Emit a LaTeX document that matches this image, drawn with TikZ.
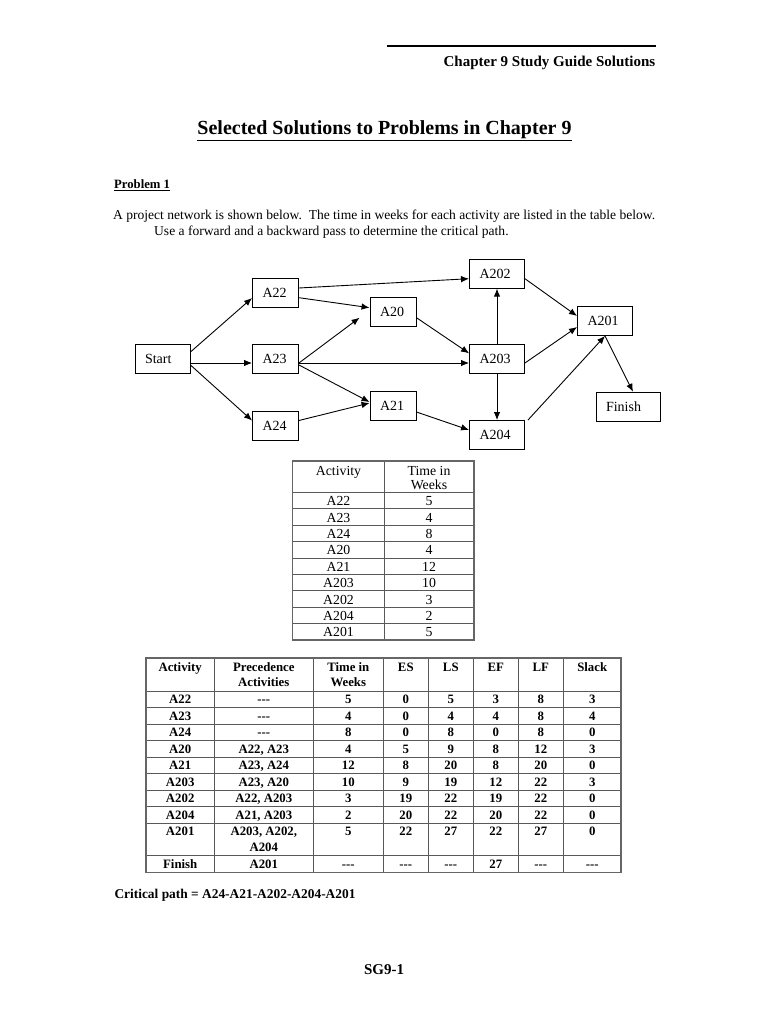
\documentclass[tikz,border=0pt]{standalone}
\usepackage{fontspec}
\setmainfont{Liberation Serif}
\usetikzlibrary{arrows.meta}
\newcommand\netfont{\fontsize{14}{16}\selectfont}
\newcommand\bodyfont{\fontsize{13.55}{16}\selectfont}
\newcommand\tabfont{\fontsize{13.8}{15}\selectfont}
\newcommand\btabfont{\fontsize{12.8}{15}\selectfont\bfseries}
\newcommand\tripdash{{-}{-}{-}}
\begin{document}
\begin{tikzpicture}[x=1pt,y=-1pt,
  box/.style={draw, line width=0.9pt, minimum height=29pt, inner xsep=10pt, inner ysep=0pt, align=left, font=\netfont},
  arr/.style={-{Latex[length=8pt,width=6.5pt]}, line width=0.9pt},
  txt/.style={inner sep=0pt, anchor=base west},
  cell/.style={inner sep=0pt, anchor=base},
  grid/.style={line width=0.8pt, draw=black!65},
  frame/.style={line width=1.3pt, draw=black!60}]
\useasboundingbox (0,0) rectangle (768,1024);
\fill[white] (0,0) rectangle (768,1024);

% header
\coordinate (hl) at (387,46);
\coordinate (hr) at (656,46);
\draw[line width=2.6pt] (hl) -- (hr);
\node[inner sep=0pt, anchor=base east, font=\fontsize{15}{17}\selectfont\bfseries] (head) at (655.5,66.5) {Chapter 9 Study Guide Solutions};

% title
\node[inner sep=0pt, anchor=base, font=\fontsize{20}{24}\selectfont\bfseries] (title) at (384.5,135) {\underline{Selected Solutions to Problems in Chapter 9}};
\node[txt, font=\fontsize{12.7}{14}\selectfont\bfseries] (prob) at (114,188.3) {\underline{Problem 1}};
\node[txt, font=\bodyfont] (body1) at (113,219.5) {A project network is shown below.\ \ The time in weeks for each activity are listed in the table below.};
\node[txt, font=\bodyfont] (body2) at (154,235.5) {Use a forward and a backward pass to determine the critical path.};

% network
\node[box, text width=35pt] (Start) at (162.5,359) {Start};
\node[box, text width=26pt] (A22) at (275.5,293) {A22};
\node[box, text width=26pt] (A23) at (275.5,359) {A23};
\node[box, text width=26pt] (A24) at (275.5,425.5) {A24};
\node[box, text width=26pt] (A20) at (393,311.7) {A20};
\node[box, text width=26pt] (A21) at (393,406) {A21};
\node[box, text width=35pt] (A202) at (497,273.7) {A202};
\node[box, text width=35pt] (A203) at (497,359) {A203};
\node[box, text width=35pt] (A204) at (497,435) {A204};
\node[box, text width=35pt] (A201) at (605,321) {A201};
\node[box, text width=44pt] (Finish) at (628,406.7) {Finish};

\draw[arr] ([yshift=7pt]Start.east) -- ([yshift=-5pt]A22.west);
\draw[arr] ([yshift=-4pt]Start.east) -- ([yshift=-4pt]A23.west);
\draw[arr] ([yshift=-6pt]Start.east) -- ([yshift=5pt]A24.west);
\draw[arr] ([yshift=5pt]A22.east) -- ([yshift=-5pt]A202.west);
\draw[arr] ([yshift=-4.7pt]A22.east) -- ([yshift=4pt]A20.west);
\draw[arr] ([yshift=-4pt]A23.east) -- ([xshift=-10pt,yshift=-6pt]A20.west);
\draw[arr] ([yshift=-4pt]A23.east) -- ([yshift=-4pt]A203.west);
\draw[arr] ([yshift=-6pt]A23.east) -- ([yshift=4pt]A21.west);
\draw[arr] ([yshift=5pt]A24.east) -- ([yshift=3pt]A21.west);
\draw[arr] ([yshift=-6pt]A20.east) -- ([yshift=5.7pt]A203.west);
\draw[arr] ([yshift=-6pt]A21.east) -- ([yshift=5pt]A204.west);
\draw[arr] (A203.north) -- (A202.south);
\draw[arr] (A203.south) -- (A204.north);
\draw[arr] ([yshift=-5pt]A202.east) -- ([yshift=5pt]A201.west);
\draw[arr] ([yshift=-4pt]A203.east) -- ([yshift=-6pt]A201.west);
\draw[arr] ([xshift=3pt]A204.north east) -- (A201.south);
\draw[arr] (A201.south) -- ([xshift=5pt]Finish.north);

% small table
\foreach \k in {1,...,8}{
  \draw[grid] (292.7,{492.3+16.4*\k}) -- (474,{492.3+16.4*\k});
}
\draw[grid] (292.7,492.3) -- (474,492.3);
\draw[grid] (384.3,461) -- (384.3,640);
\draw[frame] (292.7,461) rectangle (474,640);
\node[cell, font=\tabfont] (sh1) at (338.5,475) {Activity};
\node[cell, font=\tabfont] (sh2) at (429,475) {Time in};
\node[cell, font=\tabfont] (sh3) at (429,489.5) {Weeks};
\foreach \a/\t [count=\i] in {A22/5,A23/4,A24/8,A20/4,A21/12,A203/10,A202/3,A204/2,A201/5}{
  \node[cell, font=\tabfont] (sa\i) at (338.5,{492.3+16.4*(\i-1)+13.3}) {\a};
  \node[cell, font=\tabfont] (st\i) at (429,{492.3+16.4*(\i-1)+13.3}) {\t};
}

% big table
\foreach \xx in {214.3,313.3,383.3,428.3,473.3,518.3,563.3}{
  \draw[grid] (\xx,658) -- (\xx,872.5);
}
\foreach \k in {0,...,8}{
  \draw[grid] (146,{691+16.5*\k}) -- (621,{691+16.5*\k});
}
\draw[grid] (146,855) -- (621,855);
\draw[frame] (146,658) rectangle (621,872.5);
\node[cell, font=\btabfont] (bh1) at (180.2,671.7) {Activity};
\node[cell, font=\btabfont] (bh2) at (263.8,671.7) {Precedence};
\node[cell, font=\btabfont] (bh2b) at (263.8,686) {Activities};
\node[cell, font=\btabfont] (bh3) at (348.3,671.7) {Time in};
\node[cell, font=\btabfont] (bh3b) at (348.3,686) {Weeks};
\node[cell, font=\btabfont] (bh4) at (405.8,671.7) {ES};
\node[cell, font=\btabfont] (bh5) at (450.8,671.7) {LS};
\node[cell, font=\btabfont] (bh6) at (495.8,671.7) {EF};
\node[cell, font=\btabfont] (bh7) at (540.8,671.7) {LF};
\node[cell, font=\btabfont] (bh8) at (592.2,671.7) {Slack};
\foreach \a/\p/\t/\es/\ls/\ef/\lf/\sl [count=\i] in {
  A22/\tripdash/5/0/5/3/8/3,
  A23/\tripdash/4/0/4/4/8/4,
  A24/\tripdash/8/0/8/0/8/0,
  A20/{A22, A23}/4/5/9/8/12/3,
  A21/{A23, A24}/12/8/20/8/20/0,
  A203/{A23, A20}/10/9/19/12/22/3,
  A202/{A22, A203}/3/19/22/19/22/0,
  A204/{A21, A203}/2/20/22/20/22/0}{
  \pgfmathsetmacro\yy{691+16.5*(\i-1)+12.5}
  \node[cell, font=\btabfont] (ba\i) at (180.2,\yy) {\a};
  \node[cell, font=\btabfont] (bp\i) at (263.8,\yy) {\p};
  \node[cell, font=\btabfont] (bt\i) at (348.3,\yy) {\t};
  \node[cell, font=\btabfont] (bes\i) at (405.8,\yy) {\es};
  \node[cell, font=\btabfont] (bls\i) at (450.8,\yy) {\ls};
  \node[cell, font=\btabfont] (bef\i) at (495.8,\yy) {\ef};
  \node[cell, font=\btabfont] (blf\i) at (540.8,\yy) {\lf};
  \node[cell, font=\btabfont] (bsl\i) at (592.2,\yy) {\sl};
}
% A201 row
\node[cell, font=\btabfont] (ba9) at (180.2,835.5) {A201};
\node[cell, font=\btabfont] (bp9) at (263.8,835.5) {A203, A202,};
\node[cell, font=\btabfont] (bp9b) at (263.8,851.5) {A204};
\node[cell, font=\btabfont] (bt9) at (348.3,835.5) {5};
\node[cell, font=\btabfont] (bes9) at (405.8,835.5) {22};
\node[cell, font=\btabfont] (bls9) at (450.8,835.5) {27};
\node[cell, font=\btabfont] (bef9) at (495.8,835.5) {22};
\node[cell, font=\btabfont] (blf9) at (540.8,835.5) {27};
\node[cell, font=\btabfont] (bsl9) at (592.2,835.5) {0};
% Finish row
\node[cell, font=\btabfont] (ba10) at (180.2,868) {Finish};
\node[cell, font=\btabfont] (bp10) at (263.8,868) {A201};
\node[cell, font=\btabfont] (bt10) at (348.3,868) {\tripdash};
\node[cell, font=\btabfont] (bes10) at (405.8,868) {\tripdash};
\node[cell, font=\btabfont] (bls10) at (450.8,868) {\tripdash};
\node[cell, font=\btabfont] (bef10) at (495.8,868) {27};
\node[cell, font=\btabfont] (blf10) at (540.8,868) {\tripdash};
\node[cell, font=\btabfont] (bsl10) at (592.2,868) {\tripdash};

\node[txt, font=\fontsize{13.4}{15}\selectfont\bfseries] (crit) at (114.3,898.3) {Critical path = A24-A21-A202-A204-A201};

\node[cell, font=\fontsize{15}{17}\selectfont\bfseries] (foot) at (384,974) {SG9-1};
\end{tikzpicture}
\end{document}
